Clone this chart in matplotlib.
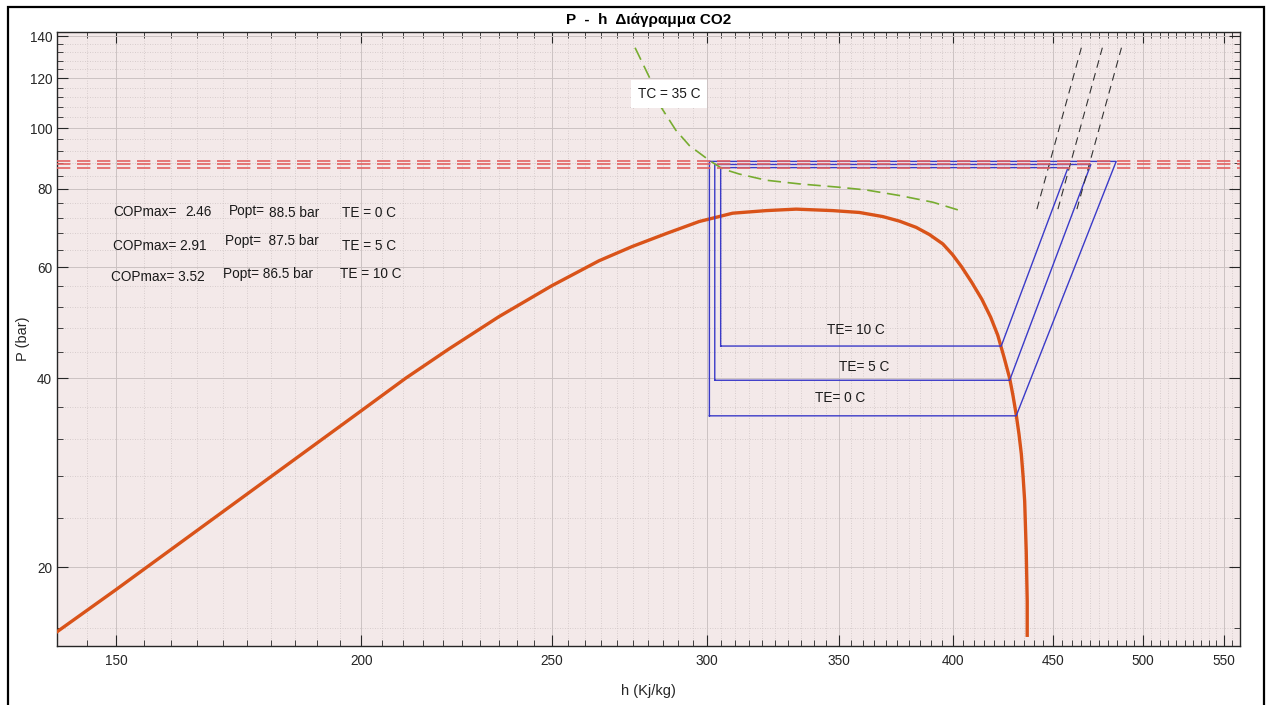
import matplotlib
matplotlib.use('Agg')
import matplotlib.pyplot as plt
from matplotlib.ticker import FixedLocator, FixedFormatter, NullFormatter
from matplotlib.patches import Rectangle

# --- data ----------------------------------------------------------------
# saturation dome (h in kJ/kg, P in bar)
dome_h = [140.0, 150.0, 200.0, 210.7, 221.6, 235.0, 250.0, 264.3, 274.8, 285.8,
          297.2, 309.1, 321.5, 333.0, 347.6, 358.6, 368.6, 375.9, 383.3, 389.3,
          395.5, 400.0, 404.2, 409.0, 414.0, 418.3, 421.8, 424.8, 427.7, 429.4,
          431.0, 432.4, 433.6, 434.5, 435.3, 436.1, 436.6, 436.6]
dome_p = [15.8, 18.43, 35.5, 40.0, 44.5, 50.1, 56.1, 61.5, 64.8, 67.9,
          71.0, 73.2, 73.9, 74.3, 73.9, 73.4, 72.3, 71.1, 69.5, 67.7,
          65.4, 62.9, 60.2, 56.9, 53.4, 50.0, 46.8, 43.3, 40.0, 37.5,
          35.0, 32.6, 30.3, 27.9, 25.5, 21.2, 17.65, 15.6]

# TC = 35 C isotherm
tc_h = [275.7, 280.3, 284.2, 289.2, 293.8, 300.8, 305.5, 311.5, 321.5, 334.2,
        350.3, 361.5, 375.9, 390.9, 402.5]
tc_p = [134.2, 120.6, 108.0, 99.2, 93.8, 88.8, 86.1, 84.5, 82.6, 81.5,
        80.5, 79.7, 78.1, 76.2, 74.1]

# cycles for TE = 0, 5, 10 C
te_names = ['0 C', '5 C', '10 C']
p_evap = [34.85, 39.7, 45.0]
p_opt = [88.5, 87.5, 86.5]
h_gc_out = [300.8, 302.7, 304.8]
h_suction = [431.0, 427.7, 423.5]
h_discharge = [484.6, 470.4, 458.0]
cop_max = [2.46, 2.91, 3.52]

# isentropes (black dashed)
isen_h_low = [441.6, 452.6, 462.8]
isen_h_high = [465.2, 476.8, 487.6]
isen_p_low = 74.3
isen_p_high = 134.2

x_ticks = [150, 200, 250, 300, 350, 400, 450, 500, 550]
y_ticks = [20, 40, 60, 80, 100, 120, 140]

plt.rcParams['font.family'] = ['Liberation Sans', 'DejaVu Sans']

fig = plt.figure(figsize=(12.69, 7.05), dpi=100)
ax = fig.add_axes([0.0449, 0.0837, 0.9319, 0.8705])
ax.set_facecolor('#f3e9e9')
ax.set_xscale('log')
ax.set_yscale('log')
ax.set_xlim(140, 560)
ax.set_ylim(15, 142)

ax.xaxis.set_major_locator(FixedLocator(x_ticks))
ax.xaxis.set_major_formatter(FixedFormatter([str(t) for t in x_ticks]))
ax.xaxis.set_minor_locator(FixedLocator([v for v in range(140, 561, 5) if v % 50]))
ax.xaxis.set_minor_formatter(NullFormatter())
ax.yaxis.set_major_locator(FixedLocator(y_ticks))
ax.yaxis.set_major_formatter(FixedFormatter([str(t) for t in y_ticks]))
ax.yaxis.set_minor_locator(FixedLocator([v for v in range(16, 141, 4) if v % 20]))
ax.yaxis.set_minor_formatter(NullFormatter())

ax.tick_params(which='both', direction='in', top=True, right=True,
               colors='#262626', labelsize=9.8)
ax.tick_params(which='major', length=8, width=0.8)
ax.tick_params(which='minor', length=4.3, width=0.6)
ax.tick_params(axis='x', which='major', pad=6)
ax.tick_params(axis='y', which='major', pad=3.5)
ax.set_axisbelow(True)
ax.grid(which='major', color='#cbc2c2', lw=0.7, ls='-')
ax.grid(which='minor', color='#cdc3c3', lw=0.6, ls=(0, (1, 2)))
for s in ax.spines.values():
    s.set_color('#262626')
    s.set_linewidth(1.0)

# dome
ax.plot(dome_h, dome_p, color='#D95319', lw=2.4, zorder=3)

# cycles
for i in range(3):
    hh = [h_gc_out[i], h_suction[i], h_discharge[i], h_gc_out[i], h_gc_out[i]]
    pp = [p_evap[i], p_evap[i], p_opt[i], p_opt[i], p_evap[i]]
    ax.plot(hh, pp, color='#3a3ac8', lw=1.0, zorder=4)

# optimum pressures
for p in p_opt:
    ax.axhline(p, color='#e36262', lw=1.2, ls=(0, (8, 4)), zorder=5)

# isentropes
for lo, hi in zip(isen_h_low, isen_h_high):
    ax.plot([lo, hi], [isen_p_low, isen_p_high], color='#333333', lw=0.8,
            ls=(0, (7, 5)), zorder=4)

# TC isotherm
ax.plot(tc_h, tc_p, color='#77AC30', lw=1.2, ls=(0, (8, 4)), zorder=4)
ax.text(276.5, 113.4, 'TC = 35 C', fontsize=9.8, ha='left', va='center',
        color='#1a1a1a', zorder=6,
        bbox=dict(facecolor='white', edgecolor='none', pad=5))

# summary texts
txt = dict(fontsize=9.8, ha='left', va='center', color='#1a1a1a')
ax.text(149.5, 73.4, 'COPmax=', **txt)
ax.text(162.7, 73.4, '%.2f' % cop_max[0], **txt)
ax.text(171.3, 73.9, 'Popt=', **txt)
ax.text(179.6, 73.3, '%.1f bar' % p_opt[0], **txt)
ax.text(195.5, 73.35, 'TE = ' + te_names[0], **txt)
ax.text(149.5, 65.0, 'COPmax= %.2f' % cop_max[1], **txt)
ax.text(170.5, 66.0, 'Popt=  %.1f bar' % p_opt[1], **txt)
ax.text(195.5, 65.0, 'TE = ' + te_names[1], **txt)
ax.text(149.1, 57.9, 'COPmax= %.2f' % cop_max[2], **txt)
ax.text(170.1, 58.6, 'Popt= %.1f bar' % p_opt[2], **txt)
ax.text(195.0, 58.6, 'TE = ' + te_names[2], **txt)

# cycle labels
ax.text(340.4, 37.2, 'TE= ' + te_names[0], **txt)
ax.text(350.2, 41.7, 'TE= ' + te_names[1], **txt)
ax.text(345.4, 47.7, 'TE= ' + te_names[2], **txt)

ax.set_title('P  -  h  Διάγραμμα CO2', fontsize=11, fontweight='bold', pad=6)
ax.set_xlabel('h (Kj/kg)', fontsize=10.5, color='#262626', labelpad=11)
ax.set_ylabel('P (bar)', fontsize=10.5, color='#262626', labelpad=0)

# window frame
fig.add_artist(Rectangle((8 / 1269, -0.02), 1256 / 1269, 1.02 - 7.3 / 705,
                         transform=fig.transFigure, fill=False,
                         edgecolor='black', lw=1.6, clip_on=False))

fig.savefig('out.png', dpi=100)
